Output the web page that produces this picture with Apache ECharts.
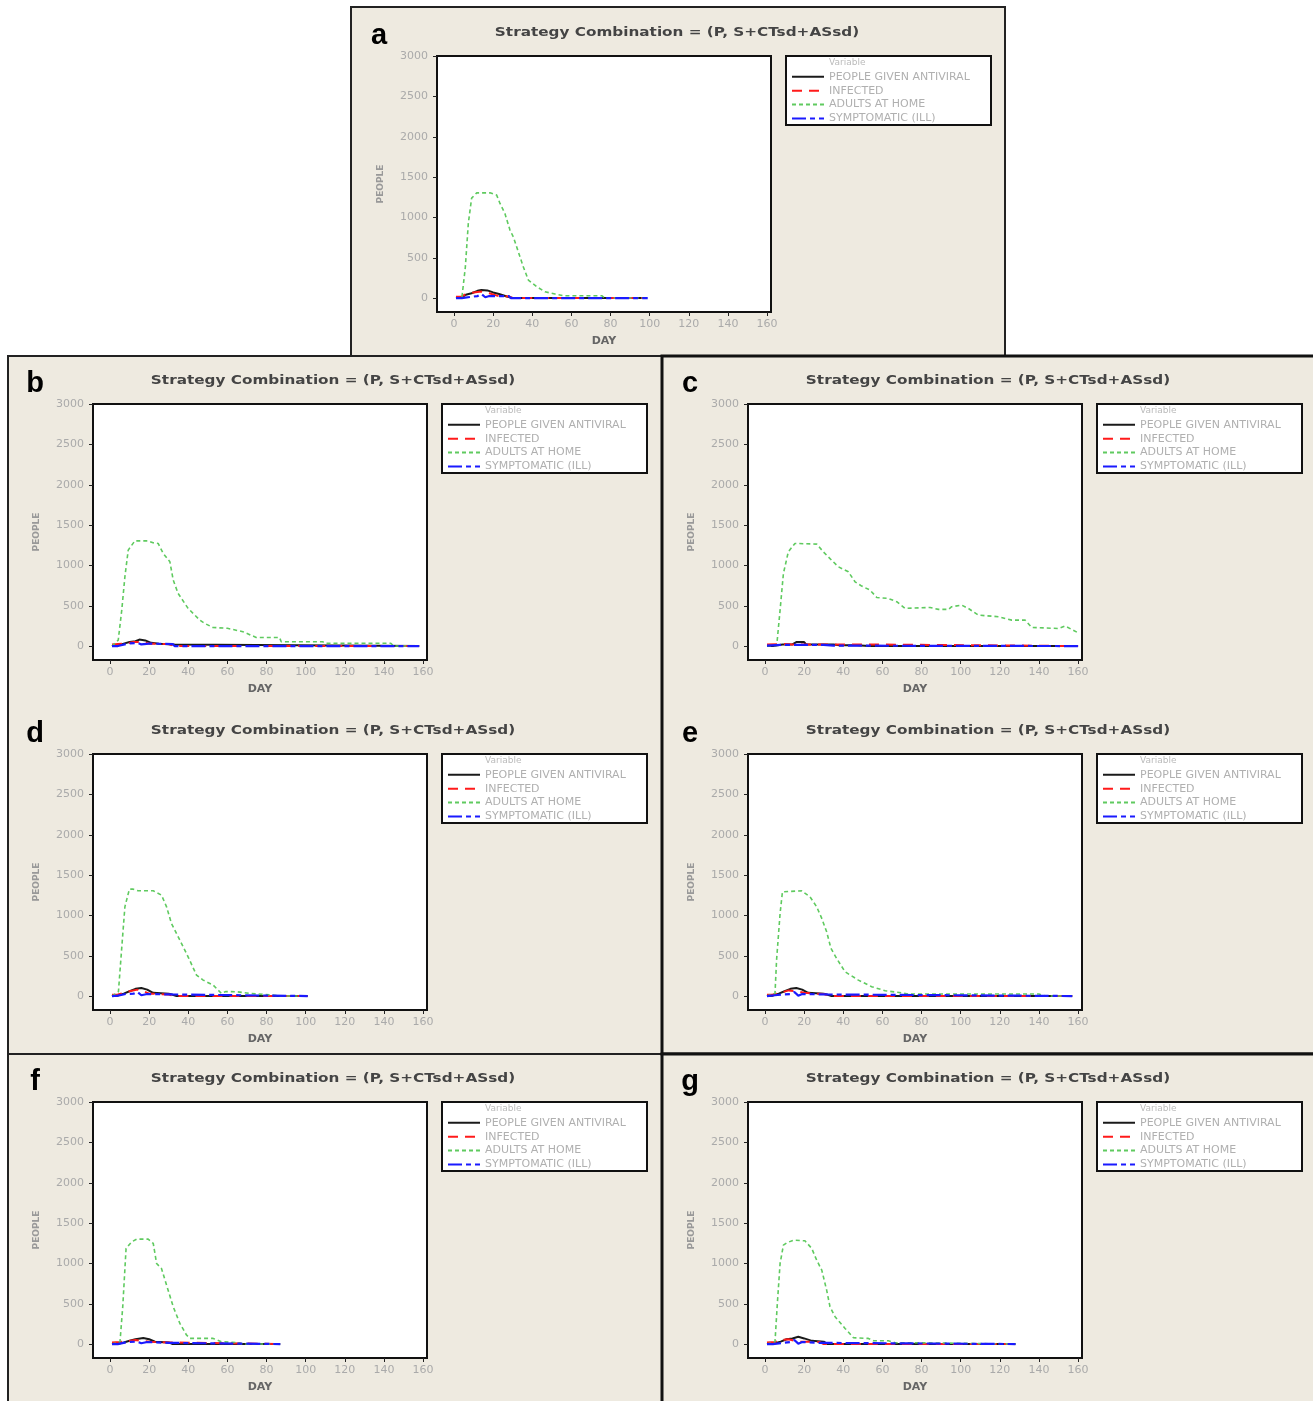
<!DOCTYPE html>
<html><head><meta charset="utf-8">
<script src="https://cdn.jsdelivr.net/npm/echarts@6/dist/echarts.min.js"></script>
<style>html,body{margin:0;padding:0;background:#fff}#c{width:1313px;height:1401px}</style>
</head><body><div id="c"></div>
<script>
// ---- data (day, people) ----
const seriesNames = ['PEOPLE GIVEN ANTIVIRAL','INFECTED','ADULTS AT HOME','SYMPTOMATIC (ILL)'];
const titleText = 'Strategy Combination = (P, S+CTsd+ASsd)';
const xTicks = [0,20,40,60,80,100,120,140,160];
const yTicks = [0,500,1000,1500,2000,2500,3000];

const a_antiviral = [[1,0],[4,10],[6,40],[9,60],[12,90],[14,100],[17,95],[20,70],[23,50],[27,20],[30,0],[98,0]];
const a_infected = [[1,15],[4,20],[6,50],[10,70],[14,80],[18,60],[22,30],[28,20],[30,0],[98,0]];
const a_home = [[1,0],[4,0],[4.8,16],[5.8,388],[7.3,925],[9,1240],[11.6,1305],[18.4,1305],[21.8,1277],[23.5,1174],[26,1050],[28.6,843],[30.3,760],[32,636],[35.4,388],[38,223],[42.3,140],[46.5,78],[51.6,50],[56,29],[75.5,29],[77,0],[98,0]];
const a_symptomatic = [[1,0],[4,0],[5,20],[12,25],[14,50],[16,10],[18,25],[28,25],[29,0],[99,0]];

const b_antiviral = [[1,0],[4,5],[7,30],[10,50],[13,60],[15,80],[18,70],[21,40],[25,30],[33,20],[34,0],[158,0]];
const b_infected = [[1,20],[4,25],[8,30],[12,50],[17,50],[20,30],[30,25],[33,0],[158,0]];
const b_home = [[1,0],[4.2,74],[6,446],[7.6,860],[9.3,1190],[12.7,1305],[19.5,1305],[22,1281],[24.6,1273],[27.2,1149],[30.6,1045],[32.3,818],[34.8,653],[39.9,467],[45.9,322],[48.4,281],[52.6,231],[60,220],[67.9,178],[74.7,107],[86.6,107],[87.5,54],[108.7,54],[110,35],[143.5,35],[145,0],[158,0]];
const b_symptomatic = [[1,0],[4,0],[5,15],[9,30],[14,40],[16,20],[20,30],[32,25],[33,0],[158,0]];

const c_antiviral = [[1,0],[4,0],[5,15],[9,20],[14,20],[16,50],[20,50],[21,20],[35,20],[38,10],[47,10],[53,0],[160,0]];
const c_infected = [[1,20],[9,25],[14,20],[35,20],[54,20],[55,0],[160,0]];
const c_home = [[1,0],[6,12],[7.7,446],[9.4,901],[11.9,1169],[15.3,1273],[26.4,1265],[29.8,1169],[34,1066],[37.5,983],[42.6,921],[46,797],[49.4,744],[53.7,694],[57.1,603],[63,591],[67.3,550],[71.6,467],[84.4,479],[88.6,455],[93.7,455],[95.4,488],[100.5,508],[103.9,467],[109,384],[119.3,364],[126.1,322],[132.9,322],[136.3,231],[150,218],[153.4,248],[160,165]];
const c_symptomatic = [[1,5],[9,15],[30,15],[35,5],[36,0],[160,0]];

const d_antiviral = [[1,0],[4,5],[7,30],[10,60],[13,90],[16,100],[19,80],[22,40],[30,30],[34,0],[101,0]];
const d_infected = [[1,15],[4,20],[7,40],[10,60],[14,80],[17,60],[20,30],[30,20],[33,0],[101,0]];
const d_home = [[1,0],[4.3,54],[5.9,570],[7.6,1107],[9.9,1326],[11.9,1326],[14.4,1306],[22.1,1306],[26.3,1252],[28.9,1107],[31.4,901],[35.7,694],[39.9,487],[44.2,260],[47.6,198],[52.7,136],[56.9,33],[59,55],[64.5,54],[71.3,33],[83.2,12],[86.6,0],[101,0]];
const d_symptomatic = [[1,0],[4,5],[8,25],[12,30],[14,50],[16,10],[19,25],[32,20],[33,0],[101,0]];

const e_antiviral = [[1,0],[4,5],[7,30],[10,60],[13,90],[16,100],[19,80],[22,40],[30,30],[34,0],[157,0]];
const e_infected = [[1,15],[4,20],[8,40],[12,70],[16,60],[20,40],[30,25],[33,0],[157,0]];
const e_home = [[1,0],[5.1,33],[5.9,446],[7.7,1025],[8.9,1293],[18.7,1306],[23,1231],[26.4,1107],[29,963],[31.5,797],[33.7,591],[36.6,467],[40.9,301],[47.7,198],[54.5,116],[61.4,66],[69.9,41],[73.3,25],[140,25],[143.2,0],[157,0]];
const e_symptomatic = [[1,0],[5,10],[9,20],[13,25],[15,50],[17,5],[19,25],[32,20],[33,0],[157,0]];

const f_antiviral = [[1,0],[4,5],[7,20],[10,40],[13,60],[17,75],[20,60],[23,30],[30,20],[32,0],[87,0]];
const f_infected = [[1,20],[5,25],[9,35],[13,50],[16,40],[20,30],[30,20],[31,0],[87,0]];
const f_home = [[1,0],[5.1,29],[6.5,463],[8.2,1186],[11.1,1269],[13.6,1302],[19.5,1302],[22.1,1248],[23.8,1000],[26.3,938],[28.9,731],[32.3,463],[35.7,256],[39.1,112],[40.8,70],[52.7,70],[56.9,29],[65.4,17],[67.9,0],[87,0]];
const f_symptomatic = [[1,0],[4,0],[5,15],[9,25],[14,30],[16,10],[19,25],[30,15],[31,0],[87,0]];

const g_antiviral = [[1,0],[4,5],[8,30],[11,60],[14,70],[17,90],[20,70],[24,40],[30,30],[32,0],[128,0]];
const g_infected = [[1,20],[5,25],[8,50],[12,60],[15,40],[18,30],[28,25],[30,0],[128,0]];
const g_home = [[1,0],[5.1,29],[6.3,504],[7.7,1000],[9.4,1227],[11.1,1256],[14.5,1289],[20.4,1281],[23.9,1186],[26.4,1041],[29,917],[31.5,669],[33.2,463],[35.8,339],[40.9,194],[45.2,78],[52.8,70],[55.4,41],[63,41],[66.5,17],[76.7,17],[77.5,0],[128,0]];
const g_symptomatic = [[1,0],[4,0],[5,20],[13,25],[15,50],[17,5],[19,25],[28,15],[29,0],[128,0]];

const panels = [
  {key:'a', ox:352, oy:8,   data:[a_antiviral,a_infected,a_home,a_symptomatic]},
  {key:'b', ox:8,   oy:356, data:[b_antiviral,b_infected,b_home,b_symptomatic]},
  {key:'c', ox:663, oy:356, data:[c_antiviral,c_infected,c_home,c_symptomatic]},
  {key:'d', ox:8,   oy:706, data:[d_antiviral,d_infected,d_home,d_symptomatic]},
  {key:'e', ox:663, oy:706, data:[e_antiviral,e_infected,e_home,e_symptomatic]},
  {key:'f', ox:8,   oy:1054,data:[f_antiviral,f_infected,f_home,f_symptomatic]},
  {key:'g', ox:663, oy:1054,data:[g_antiviral,g_infected,g_home,g_symptomatic]}
];

// ---- styles ----
const lineStyles = [
  {color:'#1a1a1a', width:2, type:'solid'},
  {color:'#ff1a1a', width:2, type:[10,7]},
  {color:'#5fca5f', width:1.6, type:[4,3]},
  {color:'#1a1aff', width:2.2, type:[14,4,5,4]}
];
const BG = '#eeeae0';
const FONT = 'DejaVu Sans';
const plain = v => String(v);

const chart = echarts.init(document.getElementById('c'), null, {renderer:'canvas'});

const grids = [], xAxes = [], yAxes = [], series = [], legends = [], graphics = [];

// panel frames
graphics.push({type:'rect', z:-10, shape:{x:351, y:7, width:654, height:349}, style:{fill:BG, stroke:'#222', lineWidth:2}});
graphics.push({type:'rect', z:-10, shape:{x:8, y:356, width:654, height:698}, style:{fill:BG, stroke:'#222', lineWidth:2}});
graphics.push({type:'rect', z:-10, shape:{x:8, y:1054, width:654, height:360}, style:{fill:BG, stroke:'#222', lineWidth:2}});
graphics.push({type:'rect', z:-10, shape:{x:662, y:356, width:660, height:698}, style:{fill:BG, stroke:'#111', lineWidth:3}});
graphics.push({type:'rect', z:-10, shape:{x:662, y:1054, width:660, height:360}, style:{fill:BG, stroke:'#111', lineWidth:3}});

panels.forEach((p, i) => {
  const gl = p.ox + 85, gt = p.oy + 48;
  grids.push({z:2, left:gl, top:gt, width:334, height:256, show:true, backgroundColor:'#fff', borderColor:'#111', borderWidth:2, containLabel:false});
  xAxes.push({
    type:'value', gridIndex:i, z:5, position:'bottom', min:-8.7, max:162, name:'DAY', nameLocation:'middle', nameGap:24,
    nameTextStyle:{fontFamily:FONT, fontSize:11, fontWeight:'bold', color:'#666'},
    axisLine:{show:false, onZero:false}, splitLine:{show:false},
    axisTick:{show:true, length:4, lineStyle:{color:'#222', width:1}, customValues:xTicks},
    axisLabel:{fontFamily:FONT, fontSize:11, color:'#aaa', margin:7, customValues:xTicks, formatter:plain}
  });
  yAxes.push({
    type:'value', gridIndex:i, z:5, position:'left', min:-173, max:3003, name:'PEOPLE', nameLocation:'middle', nameGap:52, nameRotate:90,
    nameTextStyle:{fontFamily:FONT, fontSize:9, fontWeight:'bold', color:'#999'},
    axisLine:{show:false, onZero:false}, splitLine:{show:false},
    axisTick:{show:true, length:4, lineStyle:{color:'#222', width:1}, customValues:yTicks},
    axisLabel:{fontFamily:FONT, fontSize:11, color:'#aaa', margin:9, customValues:yTicks, formatter:plain}
  });
  p.data.forEach((d, k) => {
    series.push({
      type:'line', name:seriesNames[k], xAxisIndex:i, yAxisIndex:i, data:d,
      symbol:'none', showSymbol:false, animation:false, z:3+k,
      lineStyle:lineStyles[k], itemStyle:{color:lineStyles[k].color}
    });
  });
  legends.push({
    orient:'vertical', left:p.ox+439, top:p.oy+62, itemWidth:32, itemHeight:10, itemGap:0.4,
    padding:0, selectedMode:false, data:seriesNames, z:6,
    itemStyle:{opacity:0},
    textStyle:{fontFamily:FONT, fontSize:11, lineHeight:13.5, color:'#b0b0b0', padding:[0,0,0,0]}
  });
  // legend box
  graphics.push({type:'rect', z:1, shape:{x:p.ox+434, y:p.oy+48, width:205, height:69}, style:{fill:'#fff', stroke:'#111', lineWidth:2}});
  graphics.push({type:'text', z:7, style:{text:'Variable', x:p.ox+477, y:p.oy+55, font:'9px "DejaVu Sans"', fill:'#bbb', align:'left', verticalAlign:'middle'}});
  // title and letter
  graphics.push({type:'text', z:7, x:p.ox+325, y:p.oy+25, scaleX:1.22, style:{text:titleText, x:0, y:0, font:'bold 12.5px "DejaVu Sans"', fill:'#444', align:'center', verticalAlign:'middle'}});
  graphics.push({type:'text', z:7, style:{text:p.key, x:p.ox+27, y:p.oy+28, font:'bold 29px "Liberation Sans"', fill:'#000', align:'center', verticalAlign:'middle'}});
});

chart.setOption({
  animation:false,
  backgroundColor:'#fff',
  grid:grids, xAxis:xAxes, yAxis:yAxes, series:series, legend:legends,
  graphic:{elements:graphics}
});
</script></body></html>
